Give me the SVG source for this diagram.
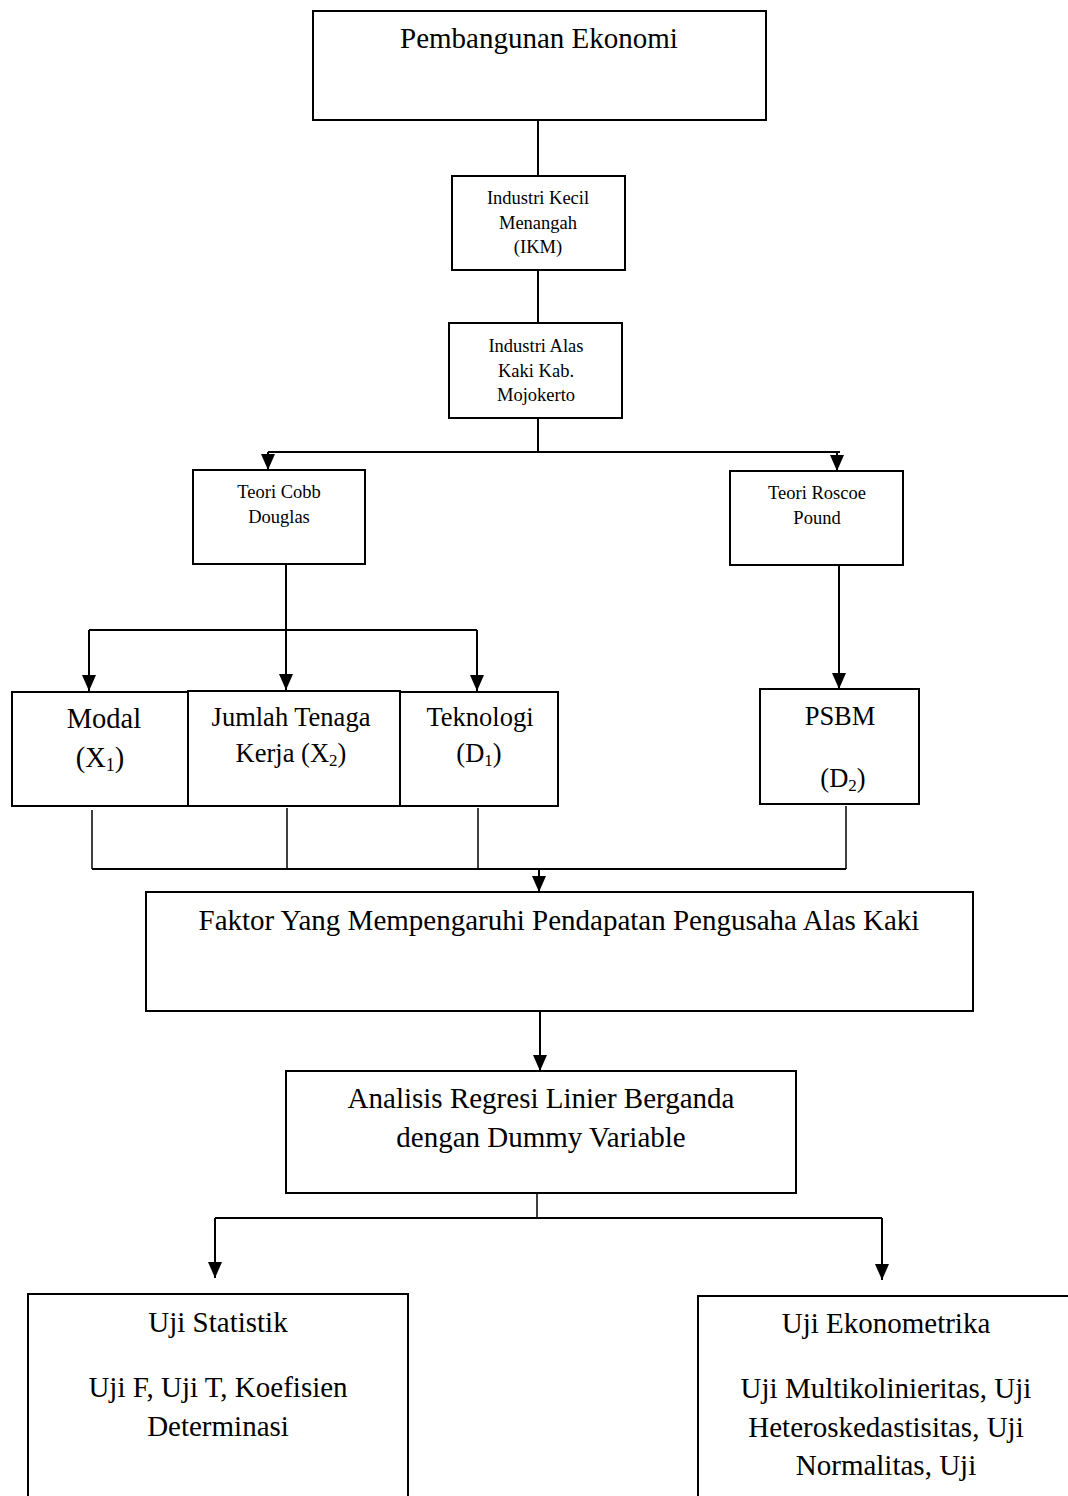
<svg xmlns="http://www.w3.org/2000/svg" width="1068" height="1496" viewBox="0 0 1068 1496">
<style>
.box{fill:#fff;stroke:#000;stroke-width:2}
.ln{fill:none;stroke:#000;stroke-width:2}
.thin{fill:none;stroke:#000;stroke-width:1.5}
.arr{fill:none;stroke:#000;stroke-width:2;marker-end:url(#ah)}
text{font-family:"Liberation Serif","Times New Roman",serif;fill:#000;text-anchor:middle}
.s{font-size:18.5px}
.m{font-size:26.5px}
.l{font-size:29px}
</style>
<defs>
<marker id="ah" viewBox="0 0 16 14" refX="16" refY="7" markerWidth="16" markerHeight="14" markerUnits="userSpaceOnUse" orient="auto">
<path d="M0,0 L16,7 L0,14 z" fill="#000"/>
</marker>
</defs>
<g id="connectors">
<path class="ln" d="M538,120 V176"/>
<path class="ln" d="M538,270 V323"/>
<path class="ln" d="M538,418 V452"/>
<path class="ln" d="M268,452 H840"/>
<path class="arr" d="M268,452 V470"/>
<path class="arr" d="M837,452 V471"/>
<path class="arr" d="M286,564 V690"/>
<path class="ln" d="M89,630 H477"/>
<path class="arr" d="M89,630 V691"/>
<path class="arr" d="M477,630 V691"/>
<path class="arr" d="M839,565 V689"/>
<path class="thin" d="M92,810 V869"/>
<path class="thin" d="M287,808 V869"/>
<path class="thin" d="M478,808 V869"/>
<path class="thin" d="M846,806 V869"/>
<path class="ln" d="M92,869 H846"/>
<path class="arr" d="M539,869 V892"/>
<path class="arr" d="M540,1011 V1071"/>
<path class="thin" d="M537,1188 V1218"/>
<path class="ln" d="M215,1218 H882"/>
<path class="arr" d="M215,1218 V1278"/>
<path class="arr" d="M882,1218 V1280"/>
</g>
<g id="pembangunan">
<rect class="box" x="313" y="11" width="453" height="109"/>
<text class="l" x="539" y="48">Pembangunan Ekonomi</text>
</g>
<g id="ikm">
<rect class="box" x="452" y="176" width="173" height="94"/>
<text class="s" x="538" y="204">Industri Kecil</text>
<text class="s" x="538" y="229">Menangah</text>
<text class="s" x="538" y="253">(IKM)</text>
</g>
<g id="alaskaki">
<rect class="box" x="449" y="323" width="173" height="95"/>
<text class="s" x="536" y="352">Industri Alas</text>
<text class="s" x="536" y="377">Kaki Kab.</text>
<text class="s" x="536" y="401">Mojokerto</text>
</g>
<g id="cobb">
<rect class="box" x="193" y="470" width="172" height="94"/>
<text class="s" x="279" y="498">Teori Cobb</text>
<text class="s" x="279" y="523">Douglas</text>
</g>
<g id="roscoe">
<rect class="box" x="730" y="471" width="173" height="94"/>
<text class="s" x="817" y="499">Teori Roscoe</text>
<text class="s" x="817" y="524">Pound</text>
</g>
<g id="modal">
<rect class="box" x="12" y="692" width="176" height="114"/>
<text x="104" y="728" style="font-size:28.5px">Modal</text>
<text x="100" y="767" style="font-size:28.5px">(X<tspan font-size="18" dy="4">1</tspan><tspan dy="-4">)</tspan></text>
</g>
<g id="tenagakerja">
<rect class="box" x="188" y="691" width="212" height="115"/>
<text class="m" x="291" y="726">Jumlah Tenaga</text>
<text class="m" x="291" y="762">Kerja (X<tspan font-size="17" dy="4">2</tspan><tspan dy="-4">)</tspan></text>
</g>
<g id="teknologi">
<rect class="box" x="400" y="692" width="158" height="114"/>
<text class="m" x="480" y="726">Teknologi</text>
<text class="m" x="479" y="762">(D<tspan font-size="17" dy="4">1</tspan><tspan dy="-4">)</tspan></text>
</g>
<g id="psbm">
<rect class="box" x="760" y="689" width="159" height="115"/>
<text class="m" x="840" y="725">PSBM</text>
<text class="m" x="843" y="787">(D<tspan font-size="17" dy="4">2</tspan><tspan dy="-4">)</tspan></text>
</g>
<g id="faktor">
<rect class="box" x="146" y="892" width="827" height="119"/>
<text class="l" x="559" y="930">Faktor Yang Mempengaruhi Pendapatan Pengusaha Alas Kaki</text>
</g>
<g id="analisis">
<rect class="box" x="286" y="1071" width="510" height="122"/>
<text class="l" x="541" y="1108">Analisis Regresi Linier Berganda</text>
<text class="l" x="541" y="1147">dengan Dummy Variable</text>
</g>
<g id="ujistatistik">
<rect class="box" x="28" y="1294" width="380" height="230"/>
<text class="l" x="218" y="1332">Uji Statistik</text>
<text class="l" x="218" y="1397">Uji F, Uji T, Koefisien</text>
<text class="l" x="218" y="1436">Determinasi</text>
</g>
<g id="ujiekonometrika">
<rect class="box" x="698" y="1296" width="400" height="230"/>
<text class="l" x="886" y="1333">Uji Ekonometrika</text>
<text class="l" x="886" y="1398">Uji Multikolinieritas, Uji</text>
<text class="l" x="886" y="1437">Heteroskedastisitas, Uji</text>
<text class="l" x="886" y="1475">Normalitas, Uji</text>
</g>
</svg>
